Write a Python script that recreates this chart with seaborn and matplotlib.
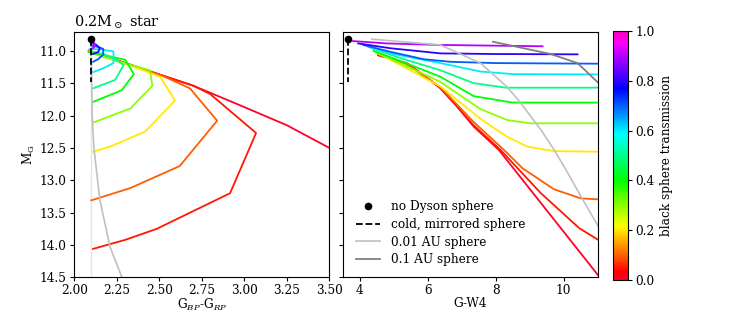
import matplotlib
matplotlib.use("Agg")
import matplotlib.pyplot as plt
import matplotlib.lines as mlines
import seaborn as sns
import numpy as np
import pandas as pd

# ---------------- data ----------------
transmissions = [0.0, 0.05, 0.1, 0.2, 0.3, 0.4, 0.5, 0.6, 0.7, 0.8, 0.9]

# left panel: G_BP - G_RP vs M_G
left_x = {
    0.0:  [2.085, 2.30, 2.505, 2.70, 2.955, 3.25, 3.5, 3.6],
    0.05: [2.085, 2.30, 2.505, 2.70, 2.80, 3.069, 2.916, 2.485, 2.30, 2.11],
    0.1:  [2.085, 2.30, 2.505, 2.68, 2.84, 2.62, 2.33, 2.10],
    0.2:  [2.085, 2.30, 2.505, 2.592, 2.416, 2.22, 2.11],
    0.3:  [2.085, 2.25, 2.445, 2.459, 2.33, 2.11],
    0.4:  [2.085, 2.20, 2.30, 2.35, 2.279, 2.11],
    0.5:  [2.09, 2.17, 2.23, 2.29, 2.24, 2.11],
    0.6:  [2.09, 2.16, 2.23, 2.23, 2.17, 2.11],
    0.7:  [2.10, 2.14, 2.17, 2.17, 2.14, 2.11],
    0.8:  [2.10, 2.13, 2.15, 2.14, 2.11],
    0.9:  [2.10, 2.115, 2.12, 2.115, 2.10],
}
left_y = {
    0.0:  [11.0, 11.19, 11.37, 11.54, 11.82, 12.15, 12.5, 12.63],
    0.05: [11.0, 11.19, 11.37, 11.54, 11.67, 12.27, 13.2, 13.75, 13.92, 14.06],
    0.1:  [11.0, 11.19, 11.37, 11.58, 12.08, 12.78, 13.12, 13.31],
    0.2:  [11.02, 11.2, 11.40, 11.77, 12.25, 12.47, 12.56],
    0.3:  [11.02, 11.16, 11.30, 11.54, 11.89, 12.11],
    0.4:  [11.02, 11.08, 11.14, 11.36, 11.61, 11.79],
    0.5:  [11.0, 11.05, 11.11, 11.22, 11.45, 11.58],
    0.6:  [10.97, 10.98, 11.01, 11.19, 11.27, 11.33],
    0.7:  [10.92, 10.94, 10.97, 11.06, 11.13, 11.17],
    0.8:  [10.88, 10.91, 10.96, 11.02, 11.05],
    0.9:  [10.85, 10.87, 10.90, 10.95, 10.97],
}

# right panel: G - W4 vs M_G
right_x = {
    0.0:  [4.54, 5.38, 5.88, 6.37, 6.86, 7.35, 8.09, 11.05, 11.3],
    0.05: [4.54, 5.38, 6.37, 7.35, 8.14, 9.33, 10.46, 11.2],
    0.1:  [4.54, 5.38, 6.37, 7.35, 8.24, 8.79, 9.72, 10.51, 11.2],
    0.2:  [4.5, 5.3, 6.37, 7.55, 8.34, 8.93, 9.72, 11.2],
    0.3:  [4.45, 5.3, 6.37, 7.55, 8.34, 9.0, 11.2],
    0.4:  [4.40, 5.3, 6.37, 7.35, 8.5, 11.2],
    0.5:  [4.35, 5.3, 6.37, 7.35, 8.3, 11.2],
    0.6:  [4.25, 4.89, 6.37, 7.55, 8.5, 11.2],
    0.7:  [4.10, 4.89, 5.88, 6.67, 8.0, 11.2],
    0.8:  [3.95, 4.89, 6.37, 8.0, 10.41],
    0.9:  [3.80, 4.79, 6.37, 9.38],
}
right_y = {
    0.0:  [11.07, 11.19, 11.375, 11.58, 11.86, 12.17, 12.53, 14.49, 14.65],
    0.05: [11.06, 11.2, 11.57, 12.15, 12.53, 13.20, 13.74, 13.98],
    0.1:  [11.05, 11.2, 11.56, 12.1, 12.53, 12.815, 13.14, 13.28, 13.30],
    0.2:  [11.03, 11.25, 11.55, 12.05, 12.33, 12.48, 12.55, 12.56],
    0.3:  [11.02, 11.22, 11.48, 11.90, 12.07, 12.12, 12.12],
    0.4:  [11.0, 11.18, 11.40, 11.70, 11.80, 11.80],
    0.5:  [10.96, 11.13, 11.30, 11.50, 11.57, 11.57],
    0.6:  [10.94, 11.04, 11.19, 11.32, 11.36, 11.365],
    0.7:  [10.91, 11.015, 11.13, 11.17, 11.19, 11.20],
    0.8:  [10.886, 10.96, 11.04, 11.05, 11.055],
    0.9:  [10.85, 10.886, 10.91, 10.93],
}

# star without a Dyson sphere
star_left = (2.10, 10.82)
star_right = (3.66, 10.82)
# cold mirrored sphere (vertical)
mirror_y = [10.82, 11.48]

# 0.01 AU sphere
au001_left_x = [2.10, 2.10, 2.105, 2.115, 2.15, 2.21, 2.28, 2.30]
au001_left_y = [10.82, 11.5, 12.0, 12.5, 13.3, 14.03, 14.5, 14.6]
au001_right_x = [4.35, 6.37, 7.55, 8.34, 8.74, 9.33, 9.72, 10.07, 10.51, 11.05]
au001_right_y = [10.82, 10.91, 11.19, 11.56, 11.81, 12.22, 12.53, 12.84, 13.25, 13.74]
# 0.1 AU sphere
au01_left_x = [2.10, 2.10]
au01_left_y = [10.82, 14.6]
au01_right_x = [7.92, 9.62, 10.41, 11.03]
au01_right_y = [10.86, 11.05, 11.19, 11.5]

# ---------------- style ----------------
plt.rcParams["font.family"] = ["DejaVu Serif"]
plt.rcParams["mathtext.fontset"] = "dejavuserif"
plt.rcParams["font.size"] = 8.7
plt.rcParams["lines.linewidth"] = 1.3
for a in ("xtick", "ytick"):
    plt.rcParams[f"{a}.major.size"] = 3.0
plt.rcParams["xtick.major.pad"] = 1.5
plt.rcParams["ytick.major.pad"] = 2.5

cmap = plt.get_cmap("gist_rainbow")

def long_frame(xs, ys):
    rows = []
    for t in transmissions:
        for i, (x, y) in enumerate(zip(xs[t], ys[t])):
            rows.append({"t": t, "x": x, "y": y, "order": i})
    return pd.DataFrame(rows)

df_left = long_frame(left_x, left_y)
df_right = long_frame(right_x, right_y)

fig = plt.figure(figsize=(7.47, 3.12), dpi=100)
ax1 = fig.add_axes([0.0995, 0.111, 0.3414, 0.787])
ax2 = fig.add_axes([0.459, 0.111, 0.341, 0.787], sharey=ax1)
cax = fig.add_axes([0.8205, 0.1026, 0.0201, 0.798])

for ax, df in ((ax1, df_left), (ax2, df_right)):
    sns.lineplot(data=df, x="x", y="y", hue="t", units="t", estimator=None,
                 sort=False, palette="gist_rainbow", hue_norm=(0, 1),
                 legend=False, ax=ax, linewidth=1.3)

# grey sphere loci
sns.lineplot(x=au001_left_x, y=au001_left_y, sort=False, color="#c0c0c0", ax=ax1, linewidth=1.2)
sns.lineplot(x=au001_right_x, y=au001_right_y, sort=False, color="#c0c0c0", ax=ax2, linewidth=1.2)
ax1.plot(star_left[0] * np.ones(2), mirror_y, color="black", ls="--", lw=1.3)
ax2.plot(star_right[0] * np.ones(2), mirror_y, color="black", ls="--", lw=1.3)
sns.lineplot(x=au01_left_x, y=au01_left_y, sort=False, color="#808080", ax=ax1, linewidth=1.3)
sns.lineplot(x=au01_right_x, y=au01_right_y, sort=False, color="#808080", ax=ax2, linewidth=1.3)

ax1.plot([star_left[0]], [star_left[1]], "o", color="black", ms=4.5)
ax2.plot([star_right[0]], [star_right[1]], "o", color="black", ms=4.5)

ax1.set_xlim(2.0, 3.5)
ax1.set_ylim(14.5, 10.707)
ax1.set_xticks([2.00, 2.25, 2.50, 2.75, 3.00, 3.25, 3.50])
ax1.set_yticks([11.0, 11.5, 12.0, 12.5, 13.0, 13.5, 14.0, 14.5])
ax1.set_xticklabels(["2.00", "2.25", "2.50", "2.75", "3.00", "3.25", "3.50"])
ax1.set_yticklabels(["11.0", "11.5", "12.0", "12.5", "13.0", "13.5", "14.0", "14.5"])
ax1.set_xlabel("G$_{BP}$-G$_{RP}$")
ax1.xaxis.set_label_coords(0.5, -0.080)
ax1.set_ylabel(r"M$_\mathrm{G}$", labelpad=2)
ax1.set_title(r"0.2M$_\odot$ star", loc="left", pad=4)

ax2.set_xlim(3.5, 11.0)
ax2.set_xticks([4, 6, 8, 10])
ax2.tick_params(axis="y", labelleft=False)
ax2.set_xlabel("G-W4")
ax2.xaxis.set_label_coords(0.5, -0.080)
ax2.set_ylabel("")

handles = [
    mlines.Line2D([], [], color="black", marker="o", ls="none", ms=4.5, label="no Dyson sphere"),
    mlines.Line2D([], [], color="black", ls="--", lw=1.3, label="cold, mirrored sphere"),
    mlines.Line2D([], [], color="#c0c0c0", lw=1.2, label="0.01 AU sphere"),
    mlines.Line2D([], [], color="#808080", lw=1.3, label="0.1 AU sphere"),
]
ax2.legend(handles=handles, loc="lower left", frameon=False, handlelength=2.0,
           handletextpad=0.9, labelspacing=0.4, bbox_to_anchor=(0.01, 0.0))

sm = plt.cm.ScalarMappable(cmap=cmap, norm=plt.Normalize(0, 1))
cb = fig.colorbar(sm, cax=cax, ticks=[0.0, 0.2, 0.4, 0.6, 0.8, 1.0])
cb.set_label("black sphere transmission")

fig.savefig("out.png", dpi=100)
